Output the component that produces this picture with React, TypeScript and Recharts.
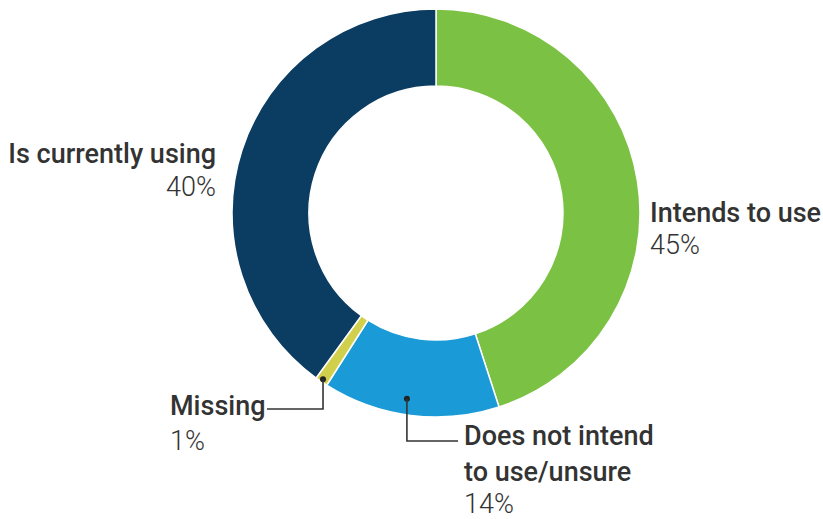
import React from "react";
import { PieChart, Pie, Cell } from "recharts";

const categories = ["Intends to use", "Does not intend to use/unsure", "Missing", "Is currently using"];
const values = [45, 14, 1, 40];
const labelLines = [["Intends to use"], ["Does not intend", "to use/unsure"], ["Missing"], ["Is currently using"]];
const percentLabels = ["45%", "14%", "1%", "40%"];
const colors = ["#7bc143", "#1a9ad6", "#d0d04c", "#0b3c61"];

const data = categories.map((name, i) => ({ name, value: values[i] }));

const RAD = Math.PI / 180;
const TXT = "#333333";
const FONT = "Roboto, 'Noto Sans', sans-serif";

function renderLabel(props: any) {
  const { cx, cy, midAngle, index } = props;
  const lines = labelLines[index];
  const pct = percentLabels[index];
  const pt = (r: number, a: number) => ({
    x: cx + r * Math.cos(-a * RAD),
    y: cy + r * Math.sin(-a * RAD),
  });
  const fs = 27;
  if (index === 0) {
    const x = cx + 214;
    const y = cy + 9;
    return (
      <g key="l0" fontFamily={FONT} fill={TXT}>
        <text x={x} y={y} fontSize={fs} fontWeight={500}>{lines[0]}</text>
        <text x={x} y={y + 32} fontSize={fs} fontWeight={300}>{pct}</text>
      </g>
    );
  }
  if (index === 3) {
    const x = cx - 220;
    const y = cy - 50;
    return (
      <g key="l3" fontFamily={FONT} fill={TXT}>
        <text x={x} y={y} fontSize={fs} fontWeight={500} textAnchor="end">{lines[0]}</text>
        <text x={x} y={y + 33} fontSize={fs} fontWeight={300} textAnchor="end">{pct}</text>
      </g>
    );
  }
  if (index === 2) {
    const p = pt(201, midAngle);
    const elbowY = cy + 196;
    const endX = cx - 169;
    const tx = cx - 266;
    const ty = cy + 202;
    return (
      <g key="l2" fontFamily={FONT} fill={TXT}>
        <circle cx={p.x} cy={p.y} r={3} fill="#222" />
        <polyline points={`${p.x},${p.y} ${p.x},${elbowY} ${endX},${elbowY}`} fill="none" stroke="#333" strokeWidth={1.6} />
        <text x={tx} y={ty} fontSize={fs} fontWeight={500}>{lines[0]}</text>
        <text x={tx} y={ty + 35} fontSize={fs} fontWeight={300}>{pct}</text>
      </g>
    );
  }
  // index 1
  const p = pt(188, midAngle - 1.7);
  const elbowY = cy + 228;
  const endX = cx + 22;
  const tx = cx + 28;
  const ty = cy + 232;
  return (
    <g key="l1" fontFamily={FONT} fill={TXT}>
      <circle cx={p.x} cy={p.y} r={3} fill="#222" />
      <polyline points={`${p.x},${p.y} ${p.x},${elbowY} ${endX},${elbowY}`} fill="none" stroke="#333" strokeWidth={1.6} />
      <text x={tx} y={ty} fontSize={fs} fontWeight={500}>{lines[0]}</text>
      <text x={tx} y={ty + 36} fontSize={fs} fontWeight={500}>{lines[1]}</text>
      <text x={tx} y={ty + 68} fontSize={fs} fontWeight={300}>{pct}</text>
    </g>
  );
}

export default function App() {
  return (
    <div style={{ position: "absolute", left: 0, top: 0, width: 823, height: 519, background: "#fff" }}>
      <PieChart width={823} height={519} margin={{ top: 0, right: 0, bottom: 0, left: 0 }}>
        <Pie
          data={data}
          dataKey="value"
          nameKey="name"
          cx={436}
          cy={213}
          innerRadius={127}
          outerRadius={204}
          startAngle={90}
          endAngle={-270}
          stroke="#ffffff"
          strokeWidth={1.5}
          isAnimationActive={false}
          label={renderLabel}
          labelLine={false}
        >
          {data.map((d, i) => (
            <Cell key={d.name} fill={colors[i]} />
          ))}
        </Pie>
      </PieChart>
    </div>
  );
}
